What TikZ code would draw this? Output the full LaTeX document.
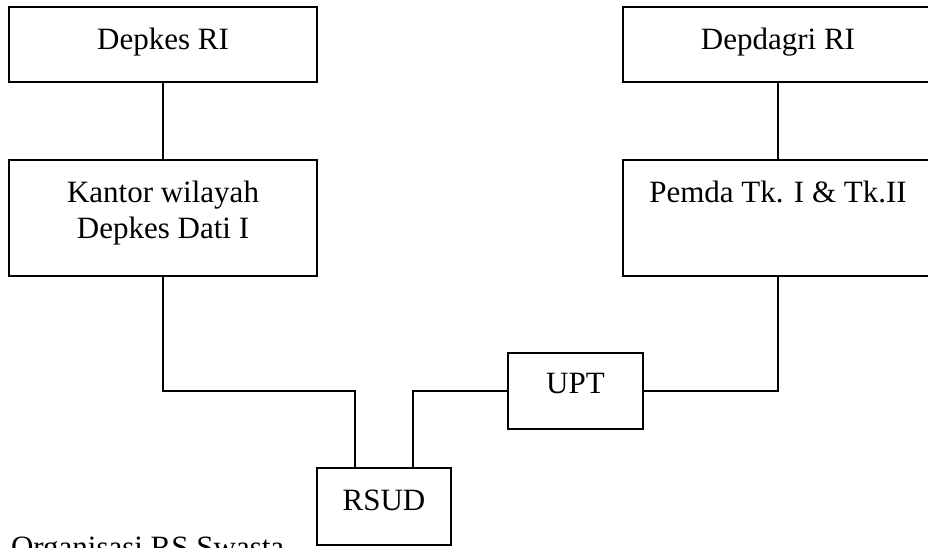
\documentclass[tikz,border=0pt]{standalone}
\usepackage{fontspec}
\setmainfont{Liberation Serif}
\usetikzlibrary{positioning}

\begin{document}
\begin{tikzpicture}[
  x=1pt, y=1pt,
  font=\fontsize{31}{36}\selectfont,
  line width=2pt,
  unit/.style={draw, inner xsep=0pt, inner ysep=0pt, align=center,
               text height=42pt},
  link/.style={line width=2pt}
]
\clip (0,0) rectangle (928,-547);

% ---- Depkes side ----
\node[unit, minimum width=308pt, text depth=33pt] (depkes) at (163,-44.5) {Depkes RI};
\node[unit, minimum width=308pt, text height=78pt, text depth=38pt, below=76pt of depkes] (kanwil)
  {Kantor wilayah\\Depkes Dati I};

% ---- Depdagri side ----
\node[unit, minimum width=310pt, text depth=33pt] (depdagri) at (778,-44.5) {Depdagri RI};
\node[unit, minimum width=310pt, text depth=74pt, below=76pt of depdagri] (pemda)
  {Pemda Tk. I \& Tk.II};

% ---- bottom ----
\node[unit, minimum width=135pt, text height=40pt, text depth=36pt] (upt) at (575.5,-391) {UPT};
\node[unit, minimum width=134pt, text depth=35pt] (rsud) at (384,-506.5) {RSUD};
\node[anchor=base west, inner sep=0pt] (caption) at (10,-557) {Organisasi RS Swasta};

\coordinate (rsudL) at ([xshift=-29pt]rsud.north);
\coordinate (rsudR) at ([xshift=29pt]rsud.north);

% ---- lines ----
\draw[link] (depkes) -- (kanwil);
\draw[link] (depdagri) -- (pemda);
\draw[link] (kanwil.south) |- (rsudL |- upt.west) -- (rsudL);
\draw[link] (rsudR) |- (upt.west);
\draw[link] (upt.east) -| (pemda.south);

\end{tikzpicture}
\end{document}
